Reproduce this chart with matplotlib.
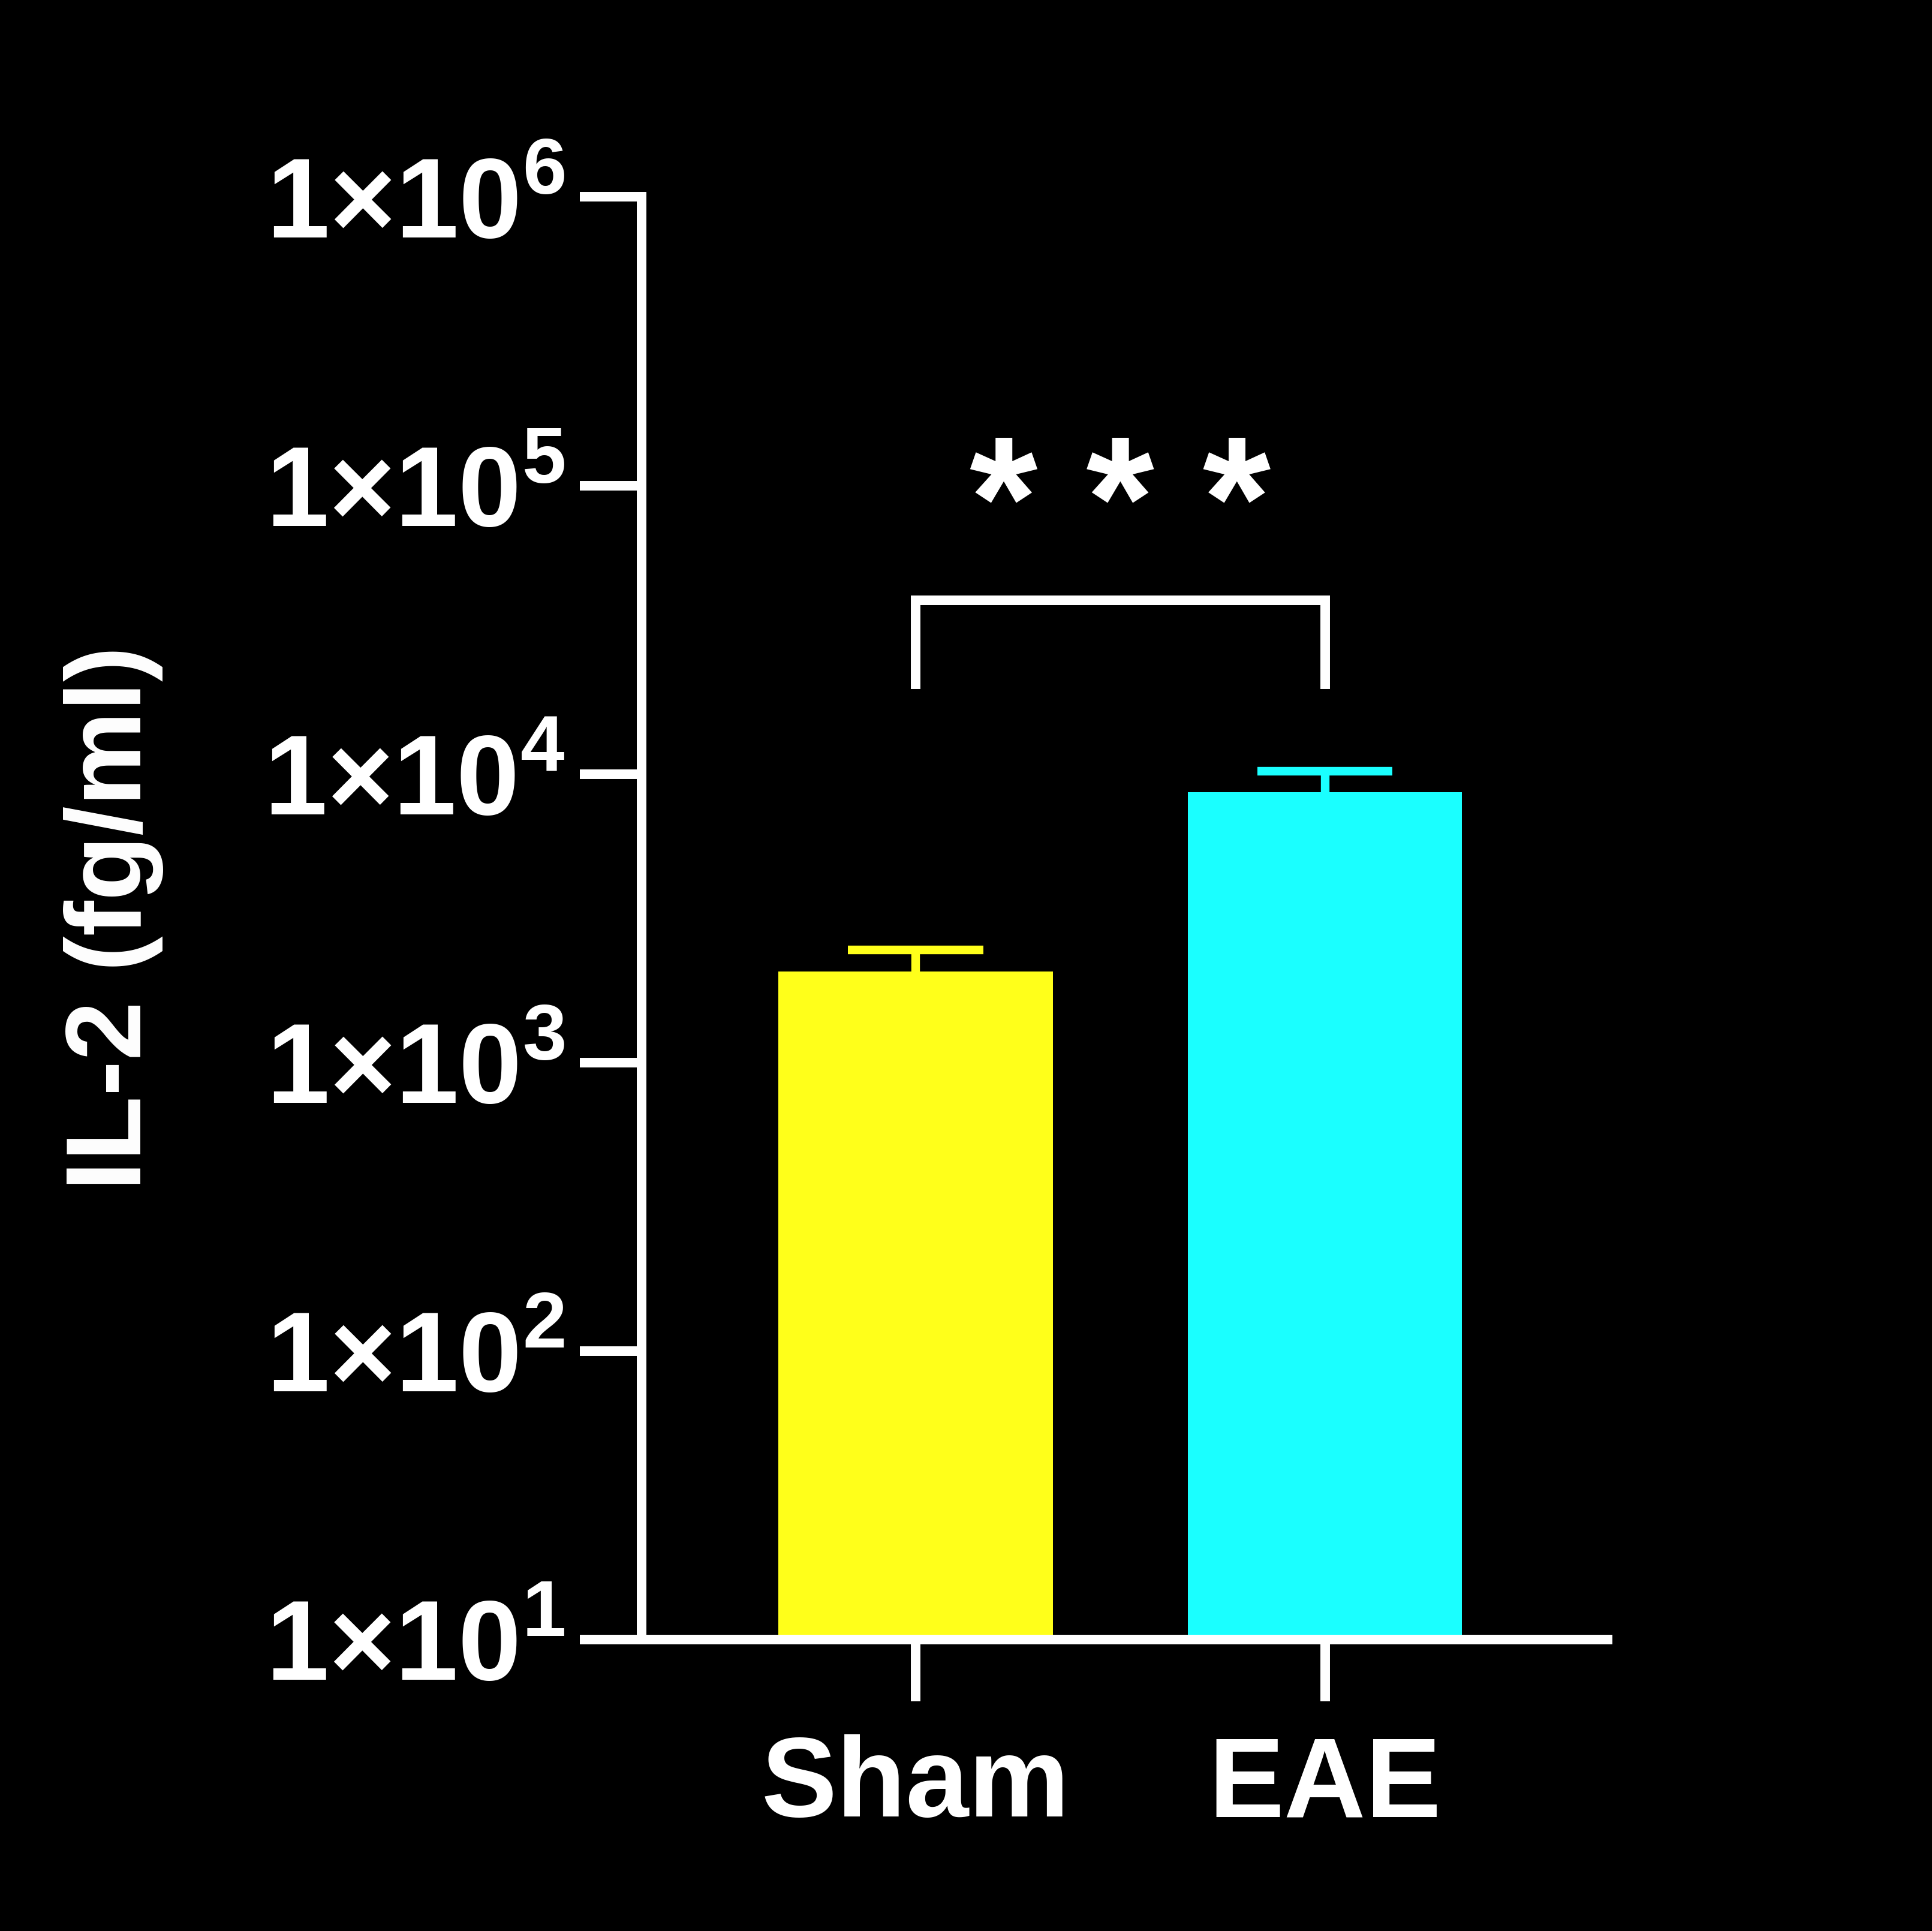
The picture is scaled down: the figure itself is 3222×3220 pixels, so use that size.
import math
import matplotlib
matplotlib.use("Agg")
import matplotlib.pyplot as plt
from matplotlib.ticker import FixedLocator, FuncFormatter

groups = ["Sham", "EAE"]
means = [2070, 8630]
errs_up = [380, 1570]
colors = ["#ffff1a", "#1affff"]
yticks = [1e1, 1e2, 1e3, 1e4, 1e5, 1e6]
bracket_top = 40000
bracket_leg = 20500
stars_y = 80000

plt.rcParams['mathtext.fontset'] = 'custom'
plt.rcParams['mathtext.rm'] = 'Liberation Sans:bold'
plt.rcParams['mathtext.bf'] = 'Liberation Sans:bold'
plt.rcParams['font.family'] = ['Liberation Sans', 'DejaVu Sans']
plt.rcParams['font.weight'] = 'bold'

fig = plt.figure(figsize=(32.22, 32.20), dpi=100, facecolor='black')
ax = fig.add_axes([0.332, 0.151, 0.5, 0.747], facecolor='black')
lw = 11.5
x = [0, 1]
for xi, m, e, c in zip(x, means, errs_up, colors):
    ax.bar(xi, m, width=0.67, color=c, zorder=2)
    ax.vlines(xi, m, m + e, color=c, lw=lw * 0.9, zorder=1)
    ax.hlines(m + e, xi - 0.165, xi + 0.165, color=c, lw=lw * 0.9, zorder=1)
ax.set_yscale('log')
ax.set_ylim(1e1, 1e6)
ax.set_xlim(-0.67, 1.69)
ax.yaxis.set_major_locator(FixedLocator(yticks))
ax.yaxis.set_minor_locator(FixedLocator([]))
ax.yaxis.set_major_formatter(FuncFormatter(lambda v, p: r"$1{\times}10^{%d}$" % round(math.log10(v))))
ax.set_xticks(x)
ax.set_xticklabels(groups)
for s in ['top', 'right']:
    ax.spines[s].set_visible(False)
for s in ['left', 'bottom']:
    ax.spines[s].set_color('white')
    ax.spines[s].set_linewidth(lw)
ax.tick_params(colors='white', width=lw, length=74, labelsize=136, pad=18)
ax.tick_params(axis='x', pad=40)
ax.set_ylabel("IL-2 (fg/ml)", color='white', fontsize=128, fontweight='bold', labelpad=120)
ax.plot([0, 0, 1, 1], [bracket_leg, bracket_top, bracket_top, bracket_leg],
        color='white', lw=lw, solid_joinstyle='miter', clip_on=False)
ax.text(0.5, stars_y, "* * *", color='white', fontsize=210, fontweight='bold',
        ha='center', va='center')
fig.savefig("out.png", facecolor='black')
